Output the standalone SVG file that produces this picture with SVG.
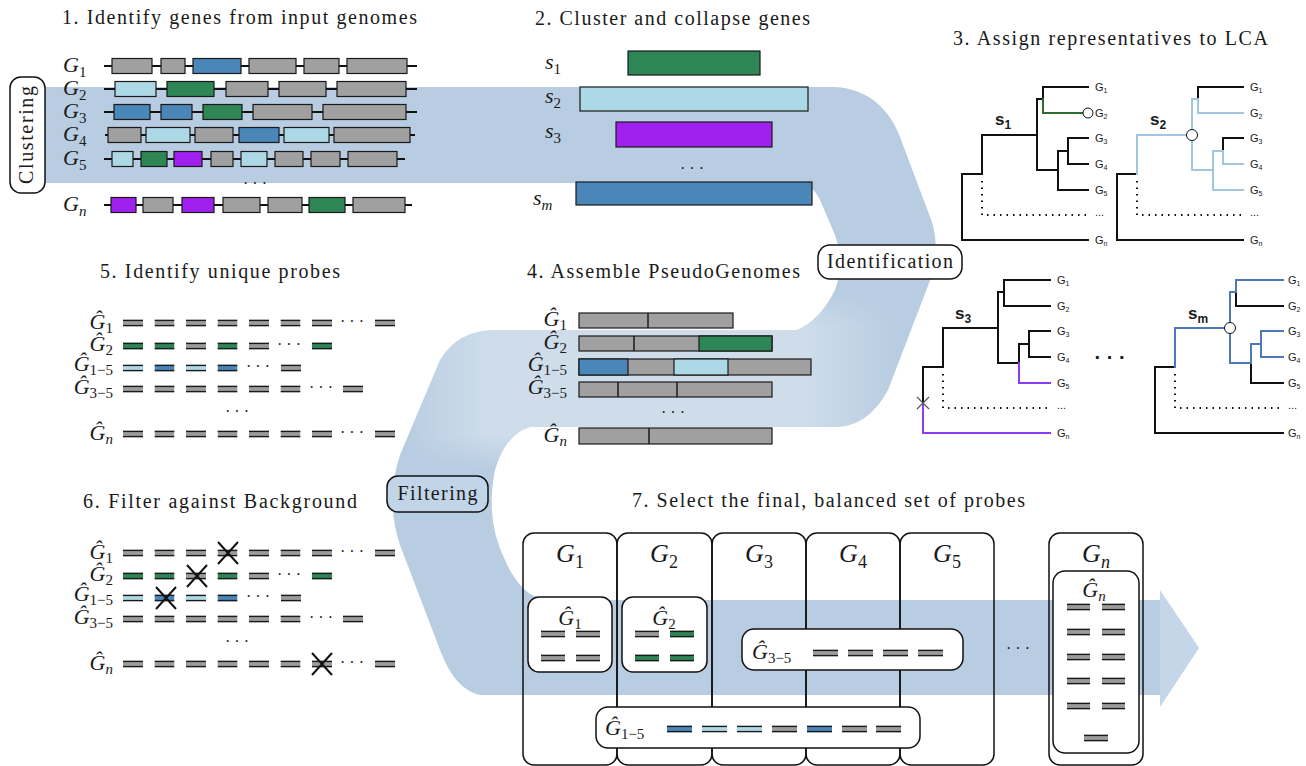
<svg xmlns="http://www.w3.org/2000/svg" width="1306" height="766" viewBox="0 0 1306 766">
<style>
.t{font-family:"Liberation Serif","DejaVu Serif",serif;font-size:20px;fill:#1a1a1a}
.lab{font-family:"Liberation Serif","DejaVu Serif",serif;font-size:22px;fill:#1a1a1a}
.big{font-family:"Liberation Serif","DejaVu Serif",serif;font-size:26px;fill:#1a1a1a}
.i{font-style:italic}
.sub{font-size:15px}
.sub2{font-size:18px}
.gl{stroke:#111;stroke-width:2;fill:none}
.gr{fill:#a0a0a0;stroke:#1a1a1a;stroke-width:1.2}
.gg{fill:#2e8555;stroke:#1a1a1a;stroke-width:1.2}
.gb{fill:#4a86b8;stroke:#1a1a1a;stroke-width:1.2}
.gl2{fill:#add8e6;stroke:#1a1a1a;stroke-width:1.2}
.gp{fill:#a020f0;stroke:#1a1a1a;stroke-width:1.2}
.div{stroke:#1a1a1a;stroke-width:1.5}
.tr{fill:none;stroke:#111;stroke-width:2;stroke-linecap:square}
.trg{fill:none;stroke:#2e6b2e;stroke-width:2;stroke-linecap:square}
.trl{fill:none;stroke:#a3c6df;stroke-width:2;stroke-linecap:square}
.trp{fill:none;stroke:#8a3cf0;stroke-width:2;stroke-linecap:square}
.trb{fill:none;stroke:#4e78b8;stroke-width:2;stroke-linecap:square}
.dot{fill:none;stroke:#111;stroke-width:2;stroke-dasharray:1.5 5}
.circ{fill:#fff;stroke:#111;stroke-width:1}
.tl{font-family:"Liberation Sans",Arial,sans-serif;font-size:11px;fill:#1a1a1a}
.tls{font-size:7px}
.sl{font-family:"Liberation Sans",Arial,sans-serif;font-size:17px;font-weight:bold;fill:#1a1a1a}
.sls{font-size:12px}
.box{fill:#fff;stroke:#111;stroke-width:1.5}
.col{fill:none;stroke:#111;stroke-width:1.5}
.x{stroke:#111;stroke-width:2}
.dots{font-family:"Liberation Serif","DejaVu Serif",serif;font-size:16px;fill:#1a1a1a}
</style>
<defs>
<path id="bandp" d="M30 87 L835 87 Q885 90 903 145 L932 222 Q940 250 931 278 L888 390 Q868 427 835 427 L530 427 Q505 435 495 470 Q485 520 505 560 Q520 595 545 600 L1160 600 L1160 590 L1199 648 L1160 707 L1160 695 L480 695 Q455 690 440 650 L400 545 Q385 500 400 455 L440 360 Q458 330 495 330 L797 330 Q820 320 835 290 Q845 262 835 235 L820 200 Q812 183 795 183 L30 183 Z"/>
<clipPath id="bandclip"><use href="#bandp"/></clipPath>
<linearGradient id="midlight" gradientUnits="userSpaceOnUse" x1="400" y1="0" x2="900" y2="0">
<stop offset="0" stop-color="#fff" stop-opacity="0"/>
<stop offset="0.18" stop-color="#fff" stop-opacity="0.33"/>
<stop offset="0.8" stop-color="#fff" stop-opacity="0.33"/>
<stop offset="1" stop-color="#fff" stop-opacity="0"/>
</linearGradient>
<linearGradient id="vfade" gradientUnits="userSpaceOnUse" x1="0" y1="290" x2="0" y2="470">
<stop offset="0" stop-color="#fff" stop-opacity="0"/>
<stop offset="0.2" stop-color="#fff" stop-opacity="1"/>
<stop offset="0.8" stop-color="#fff" stop-opacity="1"/>
<stop offset="1" stop-color="#fff" stop-opacity="0"/>
</linearGradient>
<mask id="midmask"><rect x="380" y="280" width="560" height="200" fill="url(#vfade)"/></mask>
<symbol id="pg" viewBox="0 0 20 7" preserveAspectRatio="none"><rect width="20" height="7" fill="#9c9c9c"/><rect width="20" height="1.6" fill="#1a1a1a"/><rect y="5.4" width="20" height="1.6" fill="#1a1a1a"/></symbol>
<symbol id="pgr" viewBox="0 0 20 7" preserveAspectRatio="none"><rect width="20" height="7" fill="#2e8555"/><rect width="20" height="1.6" fill="#1a1a1a"/><rect y="5.4" width="20" height="1.6" fill="#1a1a1a"/></symbol>
<symbol id="pb" viewBox="0 0 20 7" preserveAspectRatio="none"><rect width="20" height="7" fill="#4a86b8"/><rect width="20" height="1.6" fill="#1a1a1a"/><rect y="5.4" width="20" height="1.6" fill="#1a1a1a"/></symbol>
<symbol id="plb" viewBox="0 0 20 7" preserveAspectRatio="none"><rect width="20" height="7" fill="#add8e6"/><rect width="20" height="1.6" fill="#1a1a1a"/><rect y="5.4" width="20" height="1.6" fill="#1a1a1a"/></symbol>
</defs>

<!-- workflow band (connector) -->
<g id="connectors">
<use href="#bandp" fill="#b8cde2"/>
<g clip-path="url(#bandclip)">
<rect x="380" y="280" width="560" height="200" fill="url(#midlight)" mask="url(#midmask)"/>
<polygon points="1160,585 1205,648 1160,712" fill="#fff" opacity="0.18"/>
</g>
</g>

<!-- Step 1 -->
<g id="step1">
<text class="t" x="62" y="24" textLength="355" lengthAdjust="spacing">1. Identify genes from input genomes</text>
<g id="clustering">
<rect x="10" y="77" width="35" height="116" rx="11" class="box"/>
<text class="t" transform="translate(33,135) rotate(-90)" text-anchor="middle" textLength="98" lengthAdjust="spacing">Clustering</text>
</g>
<g id="row-g1">
<text class="lab" x="63" y="72"><tspan class="i">G</tspan><tspan class="sub" dy="5">1</tspan></text>
<line class="gl" x1="104" y1="66" x2="417" y2="66"/>
<rect class="gr" x="112" y="58.5" width="40" height="15"/><rect class="gr" x="161" y="58.5" width="24" height="15"/><rect class="gb" x="193" y="58.5" width="48" height="15"/><rect class="gr" x="249" y="58.5" width="47" height="15"/><rect class="gr" x="304" y="58.5" width="35" height="15"/><rect class="gr" x="347" y="58.5" width="60" height="15"/>
</g>
<g id="row-g2">
<text class="lab" x="63" y="95"><tspan class="i">G</tspan><tspan class="sub" dy="5">2</tspan></text>
<line class="gl" x1="104" y1="89" x2="417" y2="89"/>
<rect class="gl2" x="115" y="81.5" width="41" height="15"/><rect class="gg" x="167" y="81.5" width="47" height="15"/><rect class="gr" x="226" y="81.5" width="42" height="15"/><rect class="gr" x="279" y="81.5" width="47" height="15"/><rect class="gr" x="337" y="81.5" width="69" height="15"/>
</g>
<g id="row-g3">
<text class="lab" x="63" y="118"><tspan class="i">G</tspan><tspan class="sub" dy="5">3</tspan></text>
<line class="gl" x1="104" y1="112" x2="417" y2="112"/>
<rect class="gb" x="114" y="104.5" width="36" height="15"/><rect class="gb" x="161" y="104.5" width="31" height="15"/><rect class="gg" x="203" y="104.5" width="39" height="15"/><rect class="gr" x="253" y="104.5" width="59" height="15"/><rect class="gr" x="323" y="104.5" width="83" height="15"/>
</g>
<g id="row-g4">
<text class="lab" x="63" y="141"><tspan class="i">G</tspan><tspan class="sub" dy="5">4</tspan></text>
<line class="gl" x1="105" y1="135" x2="415" y2="135"/>
<rect class="gr" x="108" y="127.5" width="33" height="15"/><rect class="gl2" x="146" y="127.5" width="44" height="15"/><rect class="gr" x="195" y="127.5" width="38" height="15"/><rect class="gb" x="239" y="127.5" width="40" height="15"/><rect class="gl2" x="284" y="127.5" width="45" height="15"/><rect class="gr" x="334" y="127.5" width="76" height="15"/>
</g>
<g id="row-g5">
<text class="lab" x="63" y="165"><tspan class="i">G</tspan><tspan class="sub" dy="5">5</tspan></text>
<line class="gl" x1="104" y1="159" x2="405" y2="159"/>
<rect class="gl2" x="112" y="151.5" width="21" height="15"/><rect class="gg" x="141" y="151.5" width="26" height="15"/><rect class="gp" x="174" y="151.5" width="28" height="15"/><rect class="gr" x="211" y="151.5" width="22" height="15"/><rect class="gl2" x="241" y="151.5" width="26" height="15"/><rect class="gr" x="275" y="151.5" width="28" height="15"/><rect class="gr" x="311" y="151.5" width="29" height="15"/><rect class="gr" x="348" y="151.5" width="49" height="15"/>
</g>
<text class="dots" x="255" y="189" text-anchor="middle">· · ·</text>
<g id="row-gn">
<text class="lab" x="63" y="211"><tspan class="i">G</tspan><tspan class="sub i" dy="5">n</tspan></text>
<line class="gl" x1="104" y1="205" x2="412" y2="205"/>
<rect class="gp" x="111" y="197.5" width="25" height="15"/><rect class="gr" x="143" y="197.5" width="30" height="15"/><rect class="gp" x="182" y="197.5" width="32" height="15"/><rect class="gr" x="223" y="197.5" width="37" height="15"/><rect class="gr" x="268" y="197.5" width="34" height="15"/><rect class="gg" x="309" y="197.5" width="36" height="15"/><rect class="gr" x="353" y="197.5" width="52" height="15"/>
</g>
</g>

<!-- Step 2 -->
<g id="step2">
<text class="t" x="535" y="25" textLength="275" lengthAdjust="spacing">2. Cluster and collapse genes</text>
<text class="lab" x="545" y="69" font-size="24"><tspan class="i">s</tspan><tspan class="sub" dy="5">1</tspan></text>
<rect class="gg" x="628" y="51" width="132" height="24" stroke-width="1.5"/>
<text class="lab" x="545" y="103" font-size="24"><tspan class="i">s</tspan><tspan class="sub" dy="5">2</tspan></text>
<rect class="gl2" x="580" y="87" width="228" height="24" stroke-width="1.5"/>
<text class="lab" x="545" y="138" font-size="24"><tspan class="i">s</tspan><tspan class="sub" dy="5">3</tspan></text>
<rect class="gp" x="616" y="122" width="156" height="25" stroke-width="1.5"/>
<text class="dots" x="692" y="174" text-anchor="middle">· · ·</text>
<text class="lab" x="533" y="205" font-size="26"><tspan class="i">s</tspan><tspan class="sub i" dy="5" font-size="17">m</tspan></text>
<rect class="gb" x="576" y="182" width="236" height="23" stroke-width="1.5"/>
</g>

<!-- Step 3 -->
<g id="step3">
<text class="t" x="953" y="45" textLength="315" lengthAdjust="spacing">3. Assign representatives to LCA</text>
<g id="tree-s1">
<path class="tr" d="M962 174 V240 H1088 M962 174 H982 V135 H1037 M1037 99 V170 M1037 99 H1043 V87 H1088 M1037 170 H1058 M1058 151 V190 H1088 M1058 151 H1068 M1068 138 V164 M1068 138 H1088 M1068 164 H1088"/>
<path class="trg" d="M1043 99 V113 H1083"/>
<circle class="circ" cx="1088" cy="113" r="5"/>
<path class="dot" d="M982 181 V215 H1088"/>
<text class="sl" x="995" y="125">s<tspan class="sls" dy="4">1</tspan></text>
<text class="tl" x="1095" y="91">G<tspan class="tls" dy="2">1</tspan></text>
<text class="tl" x="1095" y="117">G<tspan class="tls" dy="2">2</tspan></text>
<text class="tl" x="1095" y="142">G<tspan class="tls" dy="2">3</tspan></text>
<text class="tl" x="1095" y="168">G<tspan class="tls" dy="2">4</tspan></text>
<text class="tl" x="1095" y="194">G<tspan class="tls" dy="2">5</tspan></text>
<text class="tl" x="1095" y="216" font-size="9">...</text>
<text class="tl" x="1095" y="244">G<tspan class="tls" dy="2">n</tspan></text>
</g>
<g id="tree-s2">
<path class="tr" d="M1117 174 V240 H1243 M1117 174 H1137 M1198 99 V87 H1243 M1223 151 V138 H1243"/>
<path class="trl" d="M1137 174 V135 H1187 M1192 99 V170 M1192 99 H1198 V113 H1243 M1192 170 H1213 M1213 151 V190 H1243 M1213 151 H1223 V164 H1243"/>
<circle class="circ" cx="1192" cy="135" r="5.5"/>
<path class="dot" d="M1137 181 V215 H1243"/>
<text class="sl" x="1150" y="125">s<tspan class="sls" dy="4">2</tspan></text>
<text class="tl" x="1250" y="91">G<tspan class="tls" dy="2">1</tspan></text>
<text class="tl" x="1250" y="117">G<tspan class="tls" dy="2">2</tspan></text>
<text class="tl" x="1250" y="142">G<tspan class="tls" dy="2">3</tspan></text>
<text class="tl" x="1250" y="168">G<tspan class="tls" dy="2">4</tspan></text>
<text class="tl" x="1250" y="194">G<tspan class="tls" dy="2">5</tspan></text>
<text class="tl" x="1250" y="216" font-size="9">...</text>
<text class="tl" x="1250" y="244">G<tspan class="tls" dy="2">n</tspan></text>
</g>
<g id="tree-s3">
<path class="tr" d="M923 367 V403 M923 367 H943 V328 H998 M998 292 V363 M998 292 H1004 V280 H1050 M1004 292 V306 H1050 M998 363 H1019 M1019 344 V363 M1019 344 H1029 M1029 331 V357 M1029 331 H1050 M1029 357 H1050"/>
<path class="trp" d="M1019 363 V383 H1050 M923 403 V433 H1050"/>
<path d="M917 397 L929 409 M929 397 L917 409" stroke="#555" stroke-width="1.2"/>
<path class="dot" d="M943 374 V408 H1050"/>
<text class="sl" x="955" y="319">s<tspan class="sls" dy="4">3</tspan></text>
<text class="tl" x="1057" y="284">G<tspan class="tls" dy="2">1</tspan></text>
<text class="tl" x="1057" y="310">G<tspan class="tls" dy="2">2</tspan></text>
<text class="tl" x="1057" y="335">G<tspan class="tls" dy="2">3</tspan></text>
<text class="tl" x="1057" y="361">G<tspan class="tls" dy="2">4</tspan></text>
<text class="tl" x="1057" y="387">G<tspan class="tls" dy="2">5</tspan></text>
<text class="tl" x="1057" y="409" font-size="9">...</text>
<text class="tl" x="1057" y="437">G<tspan class="tls" dy="2">n</tspan></text>
</g>
<text x="1110" y="364" text-anchor="middle" font-family="Liberation Sans, Arial, sans-serif" font-size="20" font-weight="bold" fill="#1a1a1a">· · ·</text>
<g id="tree-sm">
<path class="tr" d="M1155 367 V433 H1283 M1155 367 H1175 M1236 292 V306 H1283 M1251 363 V383 H1283"/>
<path class="trb" d="M1175 367 V328 H1225 M1230 292 V363 M1230 292 H1236 V280 H1283 M1230 363 H1251 V344 M1251 344 H1261 M1261 331 V357 M1261 331 H1283 M1261 357 H1283"/>
<circle class="circ" cx="1230" cy="328" r="5.5"/>
<path class="dot" d="M1175 374 V408 H1283"/>
<text class="sl" x="1188" y="319">s<tspan class="sls" dy="4">m</tspan></text>
<text class="tl" x="1288" y="284">G<tspan class="tls" dy="2">1</tspan></text>
<text class="tl" x="1288" y="310">G<tspan class="tls" dy="2">2</tspan></text>
<text class="tl" x="1288" y="335">G<tspan class="tls" dy="2">3</tspan></text>
<text class="tl" x="1288" y="361">G<tspan class="tls" dy="2">4</tspan></text>
<text class="tl" x="1288" y="387">G<tspan class="tls" dy="2">5</tspan></text>
<text class="tl" x="1288" y="409" font-size="9">...</text>
<text class="tl" x="1288" y="437">G<tspan class="tls" dy="2">n</tspan></text>
</g>
</g>

<g id="identification">
<rect x="818" y="245" width="144" height="34" rx="12" class="box"/>
<text class="t" x="890" y="268" text-anchor="middle" textLength="126" lengthAdjust="spacing">Identification</text>
</g>

<!-- Step 4 -->
<g id="step4">
<text class="t" x="527" y="278" textLength="273" lengthAdjust="spacing">4. Assemble PseudoGenomes</text>
<text class="lab" x="567" y="326" text-anchor="end"><tspan class="i">Ĝ</tspan><tspan class="sub" dy="4">1</tspan></text>
<rect class="gr" x="579" y="313" width="154" height="15" stroke-width="1.5"/><line class="div" x1="648" y1="313" x2="648" y2="328"/>
<text class="lab" x="567" y="349" text-anchor="end"><tspan class="i">Ĝ</tspan><tspan class="sub" dy="4">2</tspan></text>
<rect class="gr" x="579" y="336" width="193" height="15" stroke-width="1.5"/><rect class="gg" x="699" y="336" width="73" height="15" stroke-width="1.5"/><line class="div" x1="634" y1="336" x2="634" y2="351"/>
<text class="lab" x="567" y="371" text-anchor="end"><tspan class="i">Ĝ</tspan><tspan class="sub" dy="4">1−5</tspan></text>
<rect class="gr" x="579" y="359" width="232" height="16" stroke-width="1.5"/><rect class="gb" x="579" y="359" width="49" height="16" stroke-width="1.5"/><rect class="gl2" x="674" y="359" width="54" height="16" stroke-width="1.5"/>
<text class="lab" x="567" y="394" text-anchor="end"><tspan class="i">Ĝ</tspan><tspan class="sub" dy="4">3−5</tspan></text>
<rect class="gr" x="579" y="382" width="193" height="15" stroke-width="1.5"/><line class="div" x1="618" y1="382" x2="618" y2="397"/><line class="div" x1="677" y1="382" x2="677" y2="397"/>
<text class="dots" x="673" y="418" text-anchor="middle">· · ·</text>
<text class="lab" x="567" y="442" text-anchor="end"><tspan class="i">Ĝ</tspan><tspan class="sub i" dy="4">n</tspan></text>
<rect class="gr" x="579" y="428" width="193" height="16" stroke-width="1.5"/><line class="div" x1="649" y1="428" x2="649" y2="444"/>
</g>

<!-- Step 5 -->
<g id="step5">
<text class="t" x="100" y="278" textLength="240" lengthAdjust="spacing">5. Identify unique probes</text>
<text class="lab" x="113" y="329" text-anchor="end"><tspan class="i">Ĝ</tspan><tspan class="sub" dy="4">1</tspan></text>
<use href="#pg" x="123" y="319.5" width="20" height="7"/><use href="#pg" x="154.5" y="319.5" width="20" height="7"/><use href="#pg" x="186" y="319.5" width="20" height="7"/><use href="#pg" x="217.5" y="319.5" width="20" height="7"/><use href="#pg" x="249" y="319.5" width="20" height="7"/><use href="#pg" x="280.5" y="319.5" width="20" height="7"/><use href="#pg" x="312" y="319.5" width="20" height="7"/>
<text class="dots" x="352" y="327" text-anchor="middle">· · ·</text><use href="#pg" x="375" y="319.5" width="20" height="7"/>
<text class="lab" x="113" y="351" text-anchor="end"><tspan class="i">Ĝ</tspan><tspan class="sub" dy="4">2</tspan></text>
<use href="#pgr" x="123" y="342.5" width="20" height="7"/><use href="#pgr" x="154.5" y="342.5" width="20" height="7"/><use href="#pg" x="186" y="342.5" width="20" height="7"/><use href="#pgr" x="217.5" y="342.5" width="20" height="7"/><use href="#pg" x="249" y="342.5" width="20" height="7"/>
<text class="dots" x="289" y="350" text-anchor="middle">· · ·</text><use href="#pgr" x="312" y="342.5" width="20" height="7"/>
<text class="lab" x="113" y="371" text-anchor="end"><tspan class="i">Ĝ</tspan><tspan class="sub" dy="4">1−5</tspan></text>
<use href="#plb" x="123" y="364.5" width="20" height="7"/><use href="#pb" x="154.5" y="364.5" width="20" height="7"/><use href="#plb" x="186" y="364.5" width="20" height="7"/><use href="#pb" x="217.5" y="364.5" width="20" height="7"/>
<text class="dots" x="258" y="372" text-anchor="middle">· · ·</text><use href="#pg" x="281" y="364.5" width="20" height="7"/>
<text class="lab" x="113" y="394" text-anchor="end"><tspan class="i">Ĝ</tspan><tspan class="sub" dy="4">3−5</tspan></text>
<use href="#pg" x="123" y="385.5" width="20" height="7"/><use href="#pg" x="154.5" y="385.5" width="20" height="7"/><use href="#pg" x="186" y="385.5" width="20" height="7"/><use href="#pg" x="217.5" y="385.5" width="20" height="7"/><use href="#pg" x="249" y="385.5" width="20" height="7"/><use href="#pg" x="280.5" y="385.5" width="20" height="7"/>
<text class="dots" x="321" y="393" text-anchor="middle">· · ·</text><use href="#pg" x="343" y="385.5" width="20" height="7"/>
<text class="dots" x="237" y="417" text-anchor="middle">· · ·</text>
<text class="lab" x="113" y="440" text-anchor="end"><tspan class="i">Ĝ</tspan><tspan class="sub i" dy="4">n</tspan></text>
<use href="#pg" x="123" y="430.5" width="20" height="7"/><use href="#pg" x="154.5" y="430.5" width="20" height="7"/><use href="#pg" x="186" y="430.5" width="20" height="7"/><use href="#pg" x="217.5" y="430.5" width="20" height="7"/><use href="#pg" x="249" y="430.5" width="20" height="7"/><use href="#pg" x="280.5" y="430.5" width="20" height="7"/><use href="#pg" x="312" y="430.5" width="20" height="7"/>
<text class="dots" x="352" y="438" text-anchor="middle">· · ·</text><use href="#pg" x="375" y="430.5" width="20" height="7"/>
</g>

<g id="filtering">
<rect x="387" y="476" width="101" height="36" rx="11" fill="#c2d5e8" stroke="#111" stroke-width="1.5"/>
<text class="t" x="437.5" y="500" text-anchor="middle" textLength="80" lengthAdjust="spacing">Filtering</text>
</g>

<!-- Step 6 -->
<g id="step6">
<text class="t" x="83" y="508" textLength="274" lengthAdjust="spacing">6. Filter against Background</text>
<text class="lab" x="113" y="559" text-anchor="end"><tspan class="i">Ĝ</tspan><tspan class="sub" dy="4">1</tspan></text>
<use href="#pg" x="123" y="549.5" width="20" height="7"/><use href="#pg" x="154.5" y="549.5" width="20" height="7"/><use href="#pg" x="186" y="549.5" width="20" height="7"/><use href="#pg" x="217.5" y="549.5" width="20" height="7"/><use href="#pg" x="249" y="549.5" width="20" height="7"/><use href="#pg" x="280.5" y="549.5" width="20" height="7"/><use href="#pg" x="312" y="549.5" width="20" height="7"/>
<text class="dots" x="352" y="557" text-anchor="middle">· · ·</text><use href="#pg" x="375" y="549.5" width="20" height="7"/>
<text class="lab" x="113" y="581" text-anchor="end"><tspan class="i">Ĝ</tspan><tspan class="sub" dy="4">2</tspan></text>
<use href="#pgr" x="123" y="572.5" width="20" height="7"/><use href="#pgr" x="154.5" y="572.5" width="20" height="7"/><use href="#pg" x="186" y="572.5" width="20" height="7"/><use href="#pgr" x="217.5" y="572.5" width="20" height="7"/><use href="#pg" x="249" y="572.5" width="20" height="7"/>
<text class="dots" x="289" y="580" text-anchor="middle">· · ·</text><use href="#pgr" x="312" y="572.5" width="20" height="7"/>
<text class="lab" x="113" y="601" text-anchor="end"><tspan class="i">Ĝ</tspan><tspan class="sub" dy="4">1−5</tspan></text>
<use href="#plb" x="123" y="594.5" width="20" height="7"/><use href="#pb" x="154.5" y="594.5" width="20" height="7"/><use href="#plb" x="186" y="594.5" width="20" height="7"/><use href="#pb" x="217.5" y="594.5" width="20" height="7"/>
<text class="dots" x="258" y="602" text-anchor="middle">· · ·</text><use href="#pg" x="281" y="594.5" width="20" height="7"/>
<text class="lab" x="113" y="624" text-anchor="end"><tspan class="i">Ĝ</tspan><tspan class="sub" dy="4">3−5</tspan></text>
<use href="#pg" x="123" y="615.5" width="20" height="7"/><use href="#pg" x="154.5" y="615.5" width="20" height="7"/><use href="#pg" x="186" y="615.5" width="20" height="7"/><use href="#pg" x="217.5" y="615.5" width="20" height="7"/><use href="#pg" x="249" y="615.5" width="20" height="7"/><use href="#pg" x="280.5" y="615.5" width="20" height="7"/>
<text class="dots" x="321" y="623" text-anchor="middle">· · ·</text><use href="#pg" x="343" y="615.5" width="20" height="7"/>
<text class="dots" x="237" y="647" text-anchor="middle">· · ·</text>
<text class="lab" x="113" y="670" text-anchor="end"><tspan class="i">Ĝ</tspan><tspan class="sub i" dy="4">n</tspan></text>
<use href="#pg" x="123" y="660.5" width="20" height="7"/><use href="#pg" x="154.5" y="660.5" width="20" height="7"/><use href="#pg" x="186" y="660.5" width="20" height="7"/><use href="#pg" x="217.5" y="660.5" width="20" height="7"/><use href="#pg" x="249" y="660.5" width="20" height="7"/><use href="#pg" x="280.5" y="660.5" width="20" height="7"/><use href="#pg" x="312" y="660.5" width="20" height="7"/>
<text class="dots" x="352" y="668" text-anchor="middle">· · ·</text><use href="#pg" x="375" y="660.5" width="20" height="7"/>
<path class="x" d="M218 542 L238 564 M238 542 L218 564 M187 565 L207 587 M207 565 L187 587 M156 587 L176 609 M176 587 L156 609 M312 653 L332 675 M332 653 L312 675"/>
</g>

<!-- Step 7 -->
<g id="step7">
<text class="t" x="632" y="507" textLength="393" lengthAdjust="spacing">7. Select the final, balanced set of probes</text>
<g id="col-g1"><rect class="col" x="523" y="533" width="94" height="232" rx="11"/><text class="big" x="570" y="562" text-anchor="middle"><tspan class="i">G</tspan><tspan class="sub2" dy="6">1</tspan></text></g>
<g id="col-g2"><rect class="col" x="617" y="533" width="95" height="232" rx="11"/><text class="big" x="664" y="562" text-anchor="middle"><tspan class="i">G</tspan><tspan class="sub2" dy="6">2</tspan></text></g>
<g id="col-g3"><rect class="col" x="712" y="533" width="94" height="232" rx="11"/><text class="big" x="759" y="562" text-anchor="middle"><tspan class="i">G</tspan><tspan class="sub2" dy="6">3</tspan></text></g>
<g id="col-g4"><rect class="col" x="806" y="533" width="94" height="232" rx="11"/><text class="big" x="853" y="562" text-anchor="middle"><tspan class="i">G</tspan><tspan class="sub2" dy="6">4</tspan></text></g>
<g id="col-g5"><rect class="col" x="900" y="533" width="94" height="232" rx="11"/><text class="big" x="947" y="562" text-anchor="middle"><tspan class="i">G</tspan><tspan class="sub2" dy="6">5</tspan></text></g>
<g id="col-gn"><rect class="col" x="1049" y="533" width="94" height="232" rx="11"/><text class="big" x="1096" y="562" text-anchor="middle"><tspan class="i">G</tspan><tspan class="sub2 i" dy="6">n</tspan></text></g>
<text class="dots" x="1018" y="654" text-anchor="middle">· · ·</text>

<g id="set-g1">
<rect class="box" x="528" y="597" width="84" height="75" rx="11"/>
<text class="lab" x="570" y="625" text-anchor="middle" font-size="20"><tspan class="i">Ĝ</tspan><tspan class="sub" dy="4">1</tspan></text>
<use href="#pg" x="541" y="630.5" width="24" height="7"/><use href="#pg" x="576" y="630.5" width="24" height="7"/><use href="#pg" x="541" y="654.5" width="24" height="7"/><use href="#pg" x="576" y="654.5" width="24" height="7"/>
</g>
<g id="set-g2">
<rect class="box" x="622" y="597" width="85" height="75" rx="11"/>
<text class="lab" x="664" y="625" text-anchor="middle" font-size="20"><tspan class="i">Ĝ</tspan><tspan class="sub" dy="4">2</tspan></text>
<use href="#pg" x="635" y="630.5" width="24" height="7"/><use href="#pgr" x="670" y="630.5" width="24" height="7"/><use href="#pgr" x="635" y="654.5" width="24" height="7"/><use href="#pgr" x="670" y="654.5" width="24" height="7"/>
</g>
<g id="set-g35">
<rect class="box" x="742" y="629" width="221" height="41" rx="12"/>
<text class="lab" x="752" y="659" font-size="20"><tspan class="i">Ĝ</tspan><tspan class="sub" dy="4">3−5</tspan></text>
<use href="#pg" x="813" y="649.5" width="25" height="7"/><use href="#pg" x="848" y="649.5" width="25" height="7"/><use href="#pg" x="883" y="649.5" width="25" height="7"/><use href="#pg" x="918" y="649.5" width="25" height="7"/>
</g>
<g id="set-g15">
<rect class="box" x="596" y="707" width="324" height="41" rx="12"/>
<text class="lab" x="605" y="735" font-size="20"><tspan class="i">Ĝ</tspan><tspan class="sub" dy="4">1−5</tspan></text>
<use href="#pb" x="667" y="725.5" width="25" height="7"/><use href="#plb" x="702" y="725.5" width="25" height="7"/><use href="#plb" x="737" y="725.5" width="25" height="7"/><use href="#pg" x="772" y="725.5" width="25" height="7"/><use href="#pb" x="807" y="725.5" width="25" height="7"/><use href="#pg" x="842" y="725.5" width="25" height="7"/><use href="#pg" x="876" y="725.5" width="25" height="7"/>
</g>
<g id="set-gn">
<rect class="box" x="1053" y="571" width="86" height="182" rx="12"/>
<text class="lab" x="1094" y="597" text-anchor="middle" font-size="20"><tspan class="i">Ĝ</tspan><tspan class="sub i" dy="4">n</tspan></text>
<use href="#pg" x="1067" y="603.5" width="23" height="7"/><use href="#pg" x="1102" y="603.5" width="23" height="7"/>
<use href="#pg" x="1067" y="628.5" width="23" height="7"/><use href="#pg" x="1102" y="628.5" width="23" height="7"/>
<use href="#pg" x="1067" y="653.5" width="23" height="7"/><use href="#pg" x="1102" y="653.5" width="23" height="7"/>
<use href="#pg" x="1067" y="677.5" width="23" height="7"/><use href="#pg" x="1102" y="677.5" width="23" height="7"/>
<use href="#pg" x="1067" y="702.5" width="23" height="7"/><use href="#pg" x="1102" y="702.5" width="23" height="7"/>
<use href="#pg" x="1084" y="734.5" width="24" height="7"/>
</g>
</g>
</svg>
